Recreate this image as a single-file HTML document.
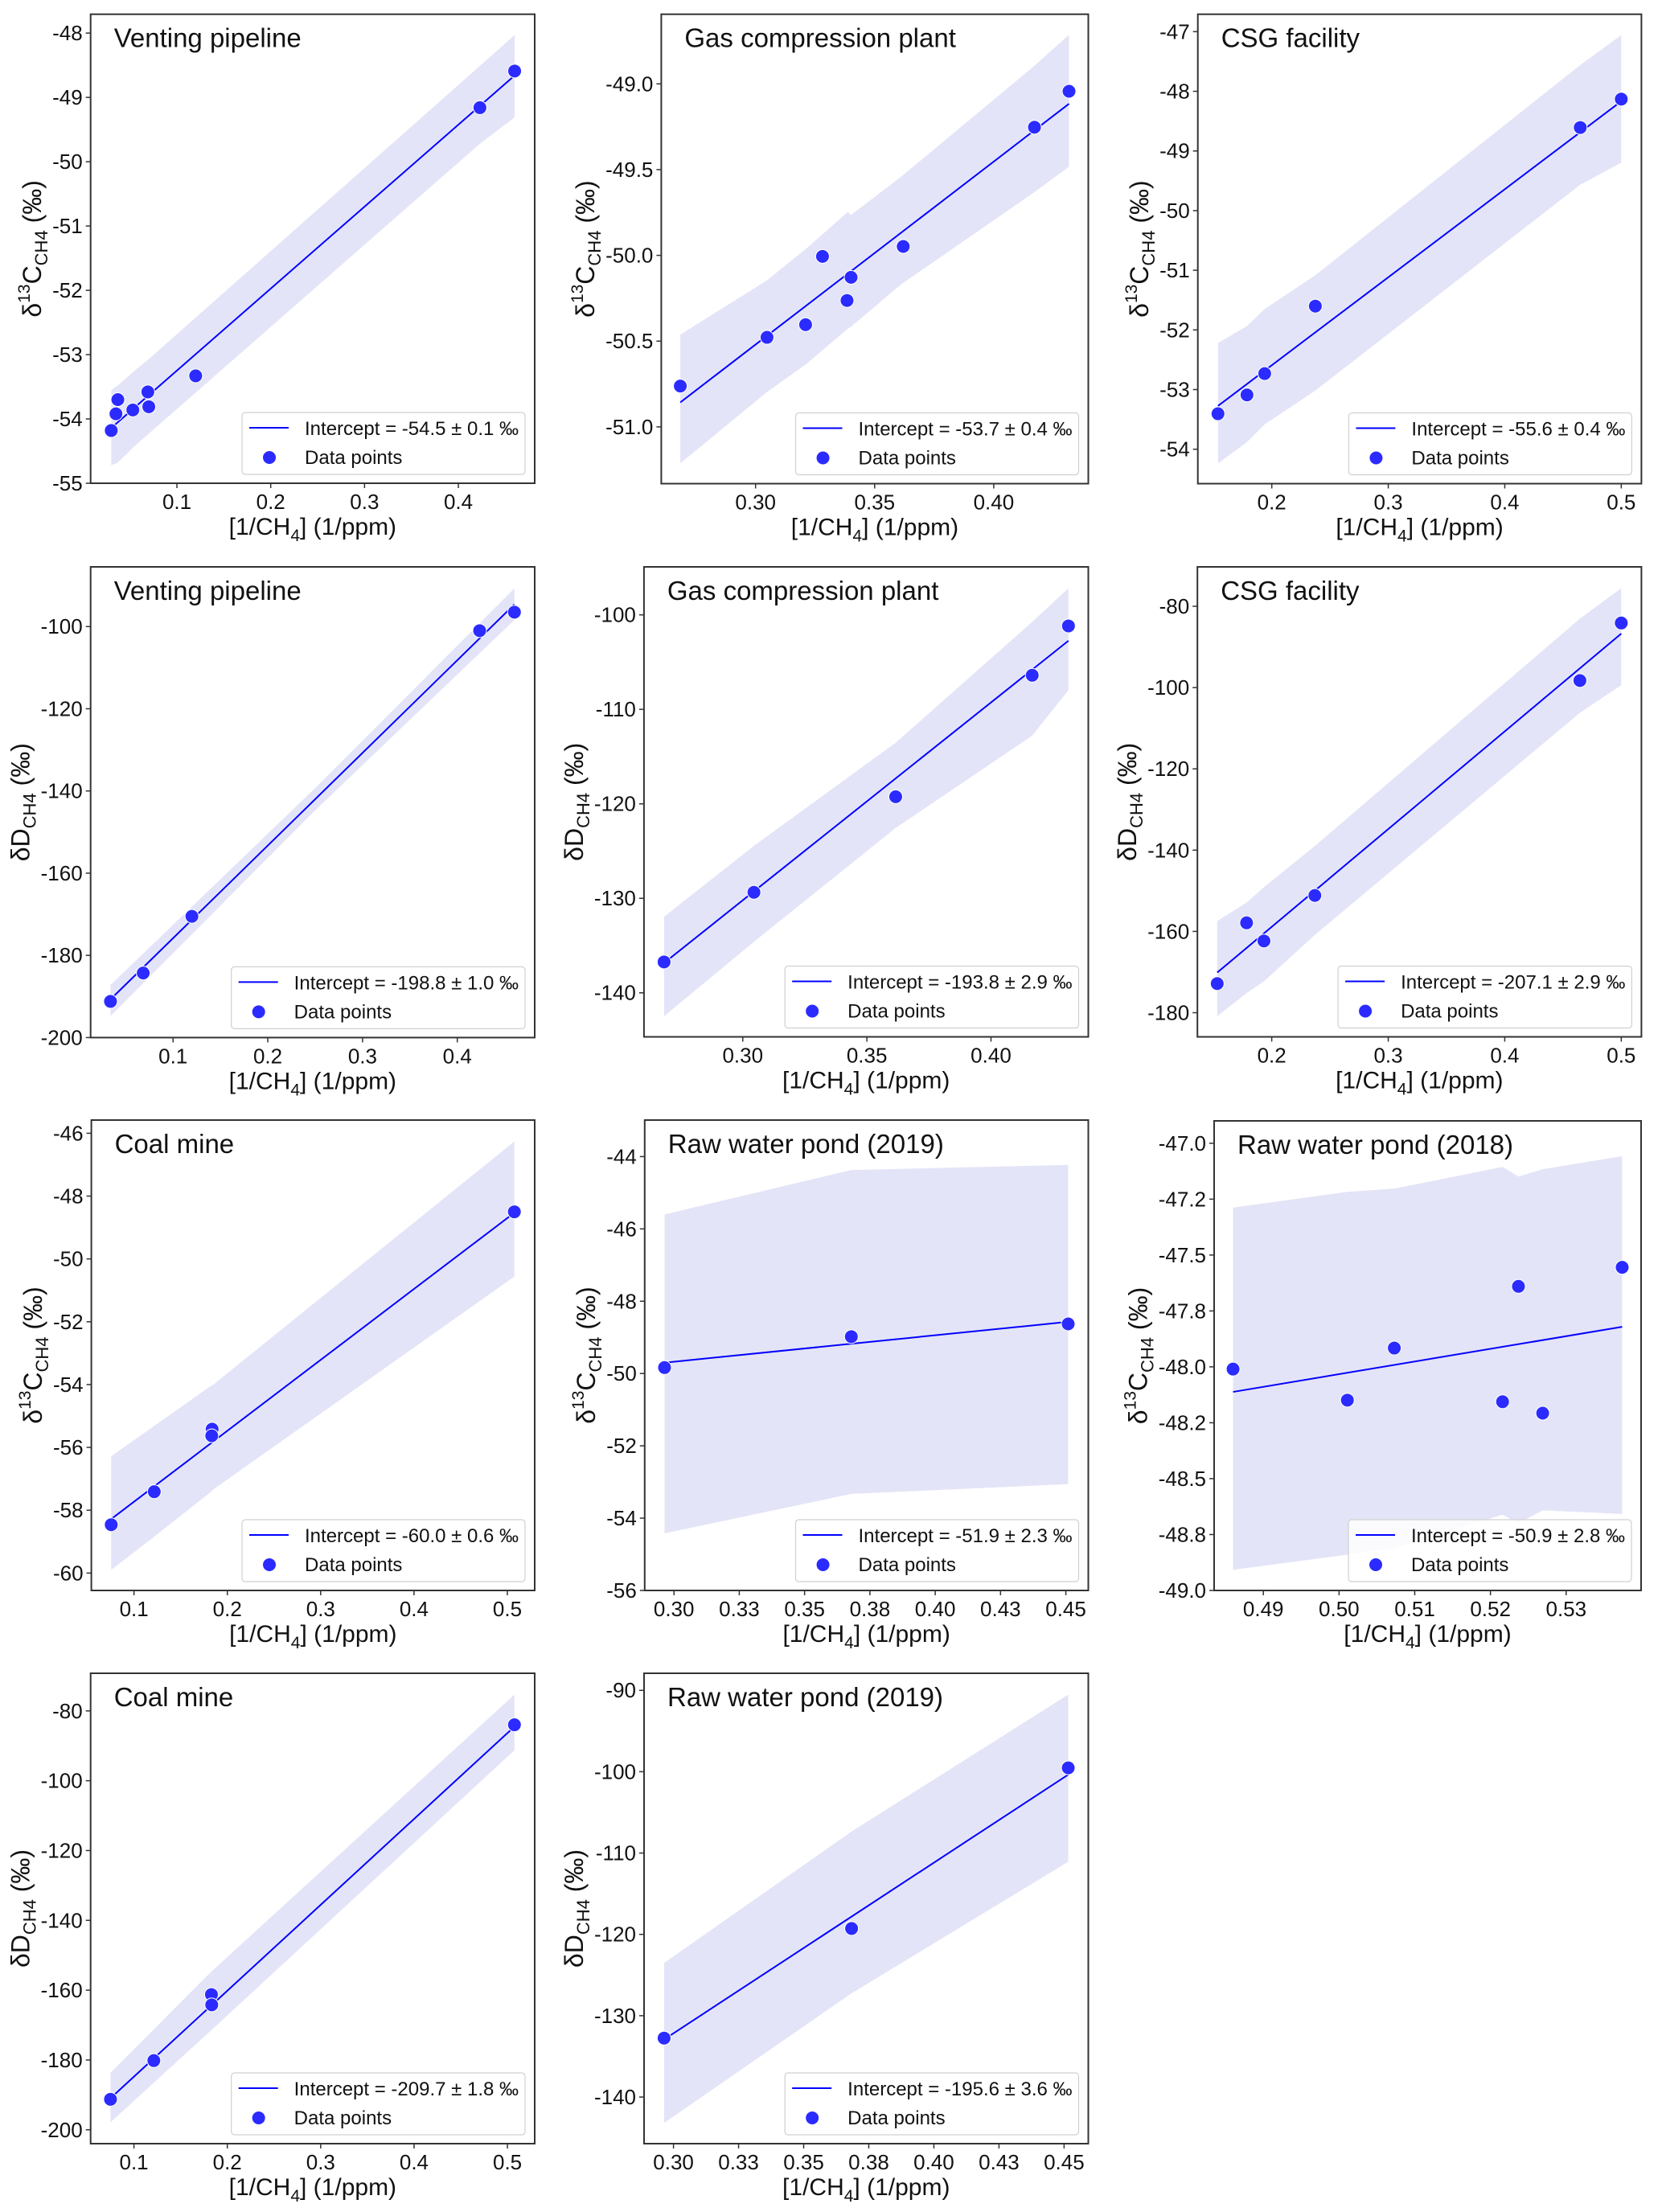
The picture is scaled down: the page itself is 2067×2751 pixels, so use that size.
<!DOCTYPE html>
<html><head><meta charset="utf-8"><title>Keeling plots</title>
<style>
html,body{margin:0;padding:0;background:#fff;}
svg{display:block;font-family:"Liberation Sans",Arial,sans-serif;}
</style></head>
<body>
<svg id="fig" width="2067" height="2751" viewBox="0 0 2067 2751" xmlns="http://www.w3.org/2000/svg"></svg>
<script>
// ---------- Panel 1: Venting pipeline d13C ----------
const p1X = [0.030,0.035,0.037,0.053,0.069,0.070,0.120,0.423,0.460];
const p1Y = [-54.18,-53.92,-53.70,-53.86,-53.58,-53.81,-53.33,-49.16,-48.59];
const p1LineX = [0.030,0.460];
const p1LineY = [-54.14,-48.66];
const p1BandX = [0.030,0.037,0.055,0.070,0.423,0.460];
const p1BandUp = [-53.55,-53.48,-53.25,-53.07,-48.51,-48.03];
const p1BandLo = [-54.72,-54.68,-54.42,-54.23,-49.72,-49.31];
const p1XTicks = [0.1,0.2,0.3,0.4];
const p1XTickLabels = ["0.1","0.2","0.3","0.4"];
const p1YTicks = [-48,-49,-50,-51,-52,-53,-54,-55];
const p1YTickLabels = ["-48","-49","-50","-51","-52","-53","-54","-55"];

// ---------- Panel 2: Gas compression plant d13C ----------
const p2X = [0.2684,0.3048,0.3210,0.3281,0.3384,0.3401,0.3620,0.4171,0.4316];
const p2Y = [-50.762,-50.478,-50.404,-50.006,-50.263,-50.128,-49.948,-49.253,-49.043];
const p2LineX = [0.2684,0.4316];
const p2LineY = [-50.857,-49.116];
const p2BandX = [0.2684,0.3046,0.3213,0.3387,0.3401,0.3612,0.4162,0.4316];
const p2BandUp = [-50.462,-50.147,-49.96,-49.747,-49.764,-49.54,-48.905,-48.714];
const p2BandLo = [-51.213,-50.799,-50.634,-50.427,-50.416,-50.168,-49.64,-49.484];
const p2XTicks = [0.30,0.35,0.40];
const p2XTickLabels = ["0.30","0.35","0.40"];
const p2YTicks = [-49.0,-49.5,-50.0,-50.5,-51.0];
const p2YTickLabels = ["-49.0","-49.5","-50.0","-50.5","-51.0"];

// ---------- Panel 3: CSG facility d13C ----------
const p3X = [0.1538,0.1787,0.1939,0.2374,0.4648,0.5000];
const p3Y = [-53.405,-53.089,-52.732,-51.601,-48.607,-48.131];
const p3LineX = [0.1538,0.5000];
const p3LineY = [-53.274,-48.167];
const p3BandX = [0.1538,0.1787,0.1939,0.2374,0.4648,0.5000];
const p3BandUp = [-52.22,-51.935,-51.649,-51.083,-47.56,-47.06];
const p3BandLo = [-54.238,-53.881,-53.583,-53.018,-49.565,-49.196];
const p3XTicks = [0.2,0.3,0.4,0.5];
const p3XTickLabels = ["0.2","0.3","0.4","0.5"];
const p3YTicks = [-47,-48,-49,-50,-51,-52,-53,-54];
const p3YTickLabels = ["-47","-48","-49","-50","-51","-52","-53","-54"];

// ---------- Panel 4: Venting pipeline dD ----------
const p4X = [0.034,0.0685,0.1199,0.4236,0.4603];
const p4Y = [-191.2,-184.3,-170.5,-101.0,-96.5];
const p4LineX = [0.034,0.4603];
const p4LineY = [-190.7,-94.6];
const p4BandX = [0.034,0.25,0.4603];
const p4BandUp = [-187.2,-139.3,-90.7];
const p4BandLo = [-194.8,-144.7,-98.4];
const p4XTicks = [0.1,0.2,0.3,0.4];
const p4XTickLabels = ["0.1","0.2","0.3","0.4"];
const p4YTicks = [-100,-120,-140,-160,-180,-200];
const p4YTickLabels = ["-100","-120","-140","-160","-180","-200"];

// ---------- Panel 5: Gas compression plant dD ----------
const p5X = [0.2683,0.3045,0.3616,0.4166,0.4312];
const p5Y = [-136.73,-129.36,-119.25,-106.39,-101.17];
const p5LineX = [0.2683,0.4312];
const p5LineY = [-136.84,-102.74];
const p5BandX = [0.2683,0.3045,0.3616,0.4166,0.4312];
const p5BandUp = [-131.95,-124.44,-113.53,-100.75,-97.18];
const p5BandLo = [-142.48,-134.59,-122.56,-112.78,-107.97];
const p5XTicks = [0.30,0.35,0.40];
const p5XTickLabels = ["0.30","0.35","0.40"];
const p5YTicks = [-100,-110,-120,-130,-140];
const p5YTickLabels = ["-100","-110","-120","-130","-140"];

// ---------- Panel 6: CSG facility dD ----------
const p6X = [0.1532,0.1784,0.1933,0.2370,0.4645,0.5000];
const p6Y = [-172.83,-157.88,-162.34,-151.15,-98.27,-84.11];
const p6LineX = [0.1532,0.5000];
const p6LineY = [-170.12,-86.73];
const p6BandX = [0.1532,0.1784,0.1939,0.2374,0.4648,0.5000];
const p6BandUp = [-157.45,-152.9,-148.97,-138.9,-82.97,-75.54];
const p6BandLo = [-180.87,-175.19,-172.13,-160.77,-106.14,-99.41];
const p6XTicks = [0.2,0.3,0.4,0.5];
const p6XTickLabels = ["0.2","0.3","0.4","0.5"];
const p6YTicks = [-80,-100,-120,-140,-160,-180];
const p6YTickLabels = ["-80","-100","-120","-140","-160","-180"];

// ---------- Panel 7: Coal mine d13C ----------
const p7X = [0.0756,0.1217,0.1837,0.1833,0.5075];
const p7Y = [-58.46,-57.41,-55.42,-55.63,-48.50];
const p7LineX = [0.0756,0.5075];
const p7LineY = [-58.28,-48.53];
const p7BandX = [0.0756,0.1200,0.1810,0.1850,0.5075];
const p7BandUp = [-56.28,-55.35,-54.07,-54.00,-46.26];
const p7BandLo = [-59.90,-58.88,-57.45,-57.34,-50.56];
const p7XTicks = [0.1,0.2,0.3,0.4,0.5];
const p7XTickLabels = ["0.1","0.2","0.3","0.4","0.5"];
const p7YTicks = [-46,-48,-50,-52,-54,-56,-58,-60];
const p7YTickLabels = ["-46","-48","-50","-52","-54","-56","-58","-60"];

// ---------- Panel 8: Raw water pond (2019) d13C ----------
const p8X = [0.2964,0.3679,0.4509];
const p8Y = [-49.835,-48.98,-48.627];
const p8LineX = [0.2964,0.4509];
const p8LineY = [-49.70,-48.57];
const p8BandX = [0.2964,0.3679,0.4509];
const p8BandUp = [-45.60,-44.37,-44.23];
const p8BandLo = [-54.42,-53.33,-53.06];
const p8XTicks = [0.300,0.325,0.350,0.375,0.400,0.425,0.450];
const p8XTickLabels = ["0.30","0.33","0.35","0.38","0.40","0.43","0.45"];
const p8YTicks = [-44,-46,-48,-50,-52,-54,-56];
const p8YTickLabels = ["-44","-46","-48","-50","-52","-54","-56"];

// ---------- Panel 9: Raw water pond (2018) d13C ----------
const p9X = [0.4860,0.5011,0.5073,0.5216,0.5237,0.5269,0.5374];
const p9Y = [-48.010,-48.149,-47.916,-48.156,-47.640,-48.207,-47.555];
const p9LineX = [0.4860,0.5374];
const p9LineY = [-48.112,-47.821];
const p9BandX = [0.4860,0.5011,0.5073,0.5216,0.5237,0.5269,0.5374];
const p9BandUp = [-47.288,-47.217,-47.203,-47.106,-47.149,-47.116,-47.058];
const p9BandLo = [-48.908,-48.84,-48.81,-48.661,-48.70,-48.642,-48.658];
const p9XTicks = [0.49,0.50,0.51,0.52,0.53];
const p9XTickLabels = ["0.49","0.50","0.51","0.52","0.53"];
const p9YTicks = [-47.0,-47.25,-47.5,-47.75,-48.0,-48.25,-48.5,-48.75,-49.0];
const p9YTickLabels = ["-47.0","-47.2","-47.5","-47.8","-48.0","-48.2","-48.5","-48.8","-49.0"];

// ---------- Panel 10: Coal mine dD ----------
const p10X = [0.0749,0.1213,0.1830,0.1833,0.5075];
const p10Y = [-191.26,-180.17,-161.26,-164.21,-83.97];
const p10LineX = [0.0749,0.5075];
const p10LineY = [-190.95,-84.5];
const p10BandX = [0.0749,0.1830,0.5075];
const p10BandUp = [-183.63,-154.65,-75.32];
const p10BandLo = [-197.87,-171.43,-91.29];
const p10XTicks = [0.1,0.2,0.3,0.4,0.5];
const p10XTickLabels = ["0.1","0.2","0.3","0.4","0.5"];
const p10YTicks = [-80,-100,-120,-140,-160,-180,-200];
const p10YTickLabels = ["-80","-100","-120","-140","-160","-180","-200"];

// ---------- Panel 11: Raw water pond (2019) dD ----------
const p11X = [0.2964,0.3684,0.4516];
const p11Y = [-132.75,-119.28,-99.53];
const p11LineX = [0.2964,0.4516];
const p11LineY = [-132.92,-100.36];
const p11BandX = [0.2964,0.3684,0.4516];
const p11BandUp = [-123.52,-107.35,-90.52];
const p11BandLo = [-143.19,-127.24,-111.07];
const p11XTicks = [0.300,0.325,0.350,0.375,0.400,0.425,0.450];
const p11XTickLabels = ["0.30","0.33","0.35","0.38","0.40","0.43","0.45"];
const p11YTicks = [-90,-100,-110,-120,-130,-140];
const p11YTickLabels = ["-90","-100","-110","-120","-130","-140"];

const titles = ["Venting pipeline","Gas compression plant","CSG facility","Venting pipeline","Gas compression plant","CSG facility","Coal mine","Raw water pond (2019)","Raw water pond (2018)","Coal mine","Raw water pond (2019)"];
const intercepts = ["-54.5 ± 0.1","-53.7 ± 0.4","-55.6 ± 0.4","-198.8 ± 1.0","-193.8 ± 2.9","-207.1 ± 2.9","-60.0 ± 0.6","-51.9 ± 2.3","-50.9 ± 2.8","-209.7 ± 1.8","-195.6 ± 3.6"];
const isotope = ["C","C","C","D","D","D","C","C","C","D","D"];

const panels = [
 {id:1, box:[112.7,17.7,665,601], xlim:[0.008,0.4814], ylim:[-55,-47.707], X:p1X,Y:p1Y,LX:p1LineX,LY:p1LineY,BX:p1BandX,BU:p1BandUp,BL:p1BandLo,XT:p1XTicks,XTL:p1XTickLabels,YT:p1YTicks,YTL:p1YTickLabels},
 {id:2, box:[822.4,17.7,1353.5,601.5], xlim:[0.2604,0.4397], ylim:[-51.331,-48.594], X:p2X,Y:p2Y,LX:p2LineX,LY:p2LineY,BX:p2BandX,BU:p2BandUp,BL:p2BandLo,XT:p2XTicks,XTL:p2XTickLabels,YT:p2YTicks,YTL:p2YTickLabels},
 {id:3, box:[1489.7,17.7,2041.4,601.5], xlim:[0.1365,0.5173], ylim:[-54.577,-46.708], X:p3X,Y:p3Y,LX:p3LineX,LY:p3LineY,BX:p3BandX,BU:p3BandUp,BL:p3BandLo,XT:p3XTicks,XTL:p3XTickLabels,YT:p3YTicks,YTL:p3YTickLabels},
 {id:4, box:[112.7,705,665,1290.4], xlim:[0.013,0.4817], ylim:[-200,-85.48], X:p4X,Y:p4Y,LX:p4LineX,LY:p4LineY,BX:p4BandX,BU:p4BandUp,BL:p4BandLo,XT:p4XTicks,XTL:p4XTickLabels,YT:p4YTicks,YTL:p4YTickLabels},
 {id:5, box:[800.9,705,1353.5,1289.5], xlim:[0.2602,0.4392], ylim:[-144.66,-94.92], X:p5X,Y:p5Y,LX:p5LineX,LY:p5LineY,BX:p5BandX,BU:p5BandUp,BL:p5BandLo,XT:p5XTicks,XTL:p5XTickLabels,YT:p5YTicks,YTL:p5YTickLabels},
 {id:6, box:[1489.2,705,2041.4,1289.5], xlim:[0.1362,0.5173], ylim:[-185.94,-70.30], X:p6X,Y:p6Y,LX:p6LineX,LY:p6LineY,BX:p6BandX,BU:p6BandUp,BL:p6BandLo,XT:p6XTicks,XTL:p6XTickLabels,YT:p6YTicks,YTL:p6YTickLabels},
 {id:7, box:[113.6,1393,665,1978], xlim:[0.0543,0.5293], ylim:[-60.554,-45.58], X:p7X,Y:p7Y,LX:p7LineX,LY:p7LineY,BX:p7BandX,BU:p7BandUp,BL:p7BandLo,XT:p7XTicks,XTL:p7XTickLabels,YT:p7YTicks,YTL:p7YTickLabels},
 {id:8, box:[801.8,1393,1353.5,1978], xlim:[0.2888,0.4586], ylim:[-56,-42.99], X:p8X,Y:p8Y,LX:p8LineX,LY:p8LineY,BX:p8BandX,BU:p8BandUp,BL:p8BandLo,XT:p8XTicks,XTL:p8XTickLabels,YT:p8YTicks,YTL:p8YTickLabels},
 {id:9, box:[1510,1394,2041,1978], xlim:[0.4835,0.5399], ylim:[-49.0,-46.90], X:p9X,Y:p9Y,LX:p9LineX,LY:p9LineY,BX:p9BandX,BU:p9BandUp,BL:p9BandLo,XT:p9XTicks,XTL:p9XTickLabels,YT:p9YTicks,YTL:p9YTickLabels},
 {id:10, box:[112.7,2081,665,2666], xlim:[0.0536,0.5292], ylim:[-203.97,-69.22], X:p10X,Y:p10Y,LX:p10LineX,LY:p10LineY,BX:p10BandX,BU:p10BandUp,BL:p10BandLo,XT:p10XTicks,XTL:p10XTickLabels,YT:p10YTicks,YTL:p10YTickLabels},
 {id:11, box:[801,2081,1353.5,2666], xlim:[0.2887,0.4593], ylim:[-145.73,-87.90], X:p11X,Y:p11Y,LX:p11LineX,LY:p11LineY,BX:p11BandX,BU:p11BandUp,BL:p11BandLo,XT:p11XTicks,XTL:p11XTickLabels,YT:p11YTicks,YTL:p11YTickLabels}
];

const NS = "http://www.w3.org/2000/svg";
const svg = document.getElementById('fig');
function mk(tag, attrs, parent){
  const e = document.createElementNS(NS, tag);
  for (const k in attrs) e.setAttribute(k, attrs[k]);
  parent.appendChild(e);
  return e;
}

panels.forEach((p, i) => {
  const [L,T,R,B] = p.box;
  const sx = v => L + (v - p.xlim[0]) / (p.xlim[1] - p.xlim[0]) * (R - L);
  const sy = v => B - (v - p.ylim[0]) / (p.ylim[1] - p.ylim[0]) * (B - T);

  const g = mk('g', {}, svg);
  
  

  const clipId = 'clip' + p.id;
  const cp = mk('clipPath', {id: clipId}, g);
  mk('rect', {x:L, y:T, width:R-L, height:B-T}, cp);

  let d = '';
  p.BX.forEach((x, k) => { d += (k ? 'L' : 'M') + sx(x).toFixed(1) + ' ' + sy(p.BU[k]).toFixed(1); });
  for (let k = p.BX.length - 1; k >= 0; k--) d += 'L' + sx(p.BX[k]).toFixed(1) + ' ' + sy(p.BL[k]).toFixed(1);
  d += 'Z';
  const band = mk('path', {d:d, fill:'#e4e4f8', 'clip-path':'url(#' + clipId + ')'}, g);
  
  

  const ln = mk('line', {x1:sx(p.LX[0]), y1:sy(p.LY[0]), x2:sx(p.LX[1]), y2:sy(p.LY[1]), stroke:'#0000ff', 'stroke-width':2}, g);
  
  

  p.X.forEach((x, k) => {
    const c = mk('circle', {cx:sx(x), cy:sy(p.Y[k]), r:8.5, fill:'#2b2bff', stroke:'#ffffff', 'stroke-width':1}, g);
    
    
  });

  const fr = mk('rect', {x:L, y:T, width:R-L, height:B-T, fill:'none', stroke:'#333', 'stroke-width':2}, g);
  
  

  p.XT.forEach((v, k) => {
    const x = sx(v);
    const tk = mk('line', {x1:x, y1:B, x2:x, y2:B+6, stroke:'#333', 'stroke-width':1.5}, g);
    
    
    const t = mk('text', {x:x, y:B+32, 'font-size':26, 'text-anchor':'middle', fill:'#111'}, g);
    t.textContent = p.XTL[k];
    
    
  });
  let maxW = 0;
  p.YT.forEach((v, k) => {
    const y = sy(v);
    const tk = mk('line', {x1:L-6, y1:y, x2:L, y2:y, stroke:'#333', 'stroke-width':1.5}, g);
    
    
    const t = mk('text', {x:L-10, y:y+9, 'font-size':26, 'text-anchor':'end', fill:'#111'}, g);
    t.textContent = p.YTL[k];
    
    
    maxW = Math.max(maxW, t.getComputedTextLength());
  });

  const xl = mk('text', {x:(L+R)/2, y:B+64, 'font-size':30, 'text-anchor':'middle', fill:'#111'}, g);
  
  
  mk('tspan', {}, xl).textContent = '[1/CH';
  mk('tspan', {dy:8, 'font-size':21}, xl).textContent = '4';
  mk('tspan', {dy:-8}, xl).textContent = '] (1/ppm)';

  const cx = L - (maxW + 10 + 24), cy = (T + B) / 2;
  const yl = mk('text', {x:cx, y:cy, 'font-size':32, 'text-anchor':'middle', fill:'#111', transform:'rotate(-90 ' + cx + ' ' + cy + ')', dy:10}, g);
  
  
  if (isotope[i] === 'C') {
    mk('tspan', {}, yl).textContent = 'δ';
    mk('tspan', {dy:-14, 'font-size':21}, yl).textContent = '13';
    mk('tspan', {dy:14}, yl).textContent = 'C';
  } else {
    mk('tspan', {}, yl).textContent = 'δD';
  }
  mk('tspan', {dy:8, 'font-size':22}, yl).textContent = 'CH4';
  mk('tspan', {dy:-8}, yl).textContent = ' (‰)';

  const tt = mk('text', {x:L+29, y:T+41, 'font-size':33, fill:'#111'}, g);
  tt.textContent = titles[i];
  
  

  const lg = mk('g', {}, g);
  
  
  const lbox = mk('rect', {rx:4, ry:4, fill:'#ffffff', 'fill-opacity':0.85, stroke:'#d0d0d0', 'stroke-width':1.2}, lg);
  const t1 = mk('text', {'font-size':24, fill:'#111'}, lg);
  t1.textContent = 'Intercept = ' + intercepts[i] + ' ‰';
  
  
  const w = t1.getComputedTextLength() + 78 + 8;
  const lx = R - 12 - w, lh = 77, ly = B - 11 - lh;
  lbox.setAttribute('x', lx); lbox.setAttribute('y', ly);
  lbox.setAttribute('width', w); lbox.setAttribute('height', lh);
  t1.setAttribute('x', lx + 78); t1.setAttribute('y', ly + 28);
  mk('line', {x1:lx+9, y1:ly+19, x2:lx+58, y2:ly+19, stroke:'#0000ff', 'stroke-width':2}, lg);
  mk('circle', {cx:lx+34, cy:ly+56, r:8, fill:'#2b2bff'}, lg);
  const t2 = mk('text', {x:lx+78, y:ly+64, 'font-size':24, fill:'#111'}, lg);
  t2.textContent = 'Data points';
  
  
});
</script>
</body></html>
